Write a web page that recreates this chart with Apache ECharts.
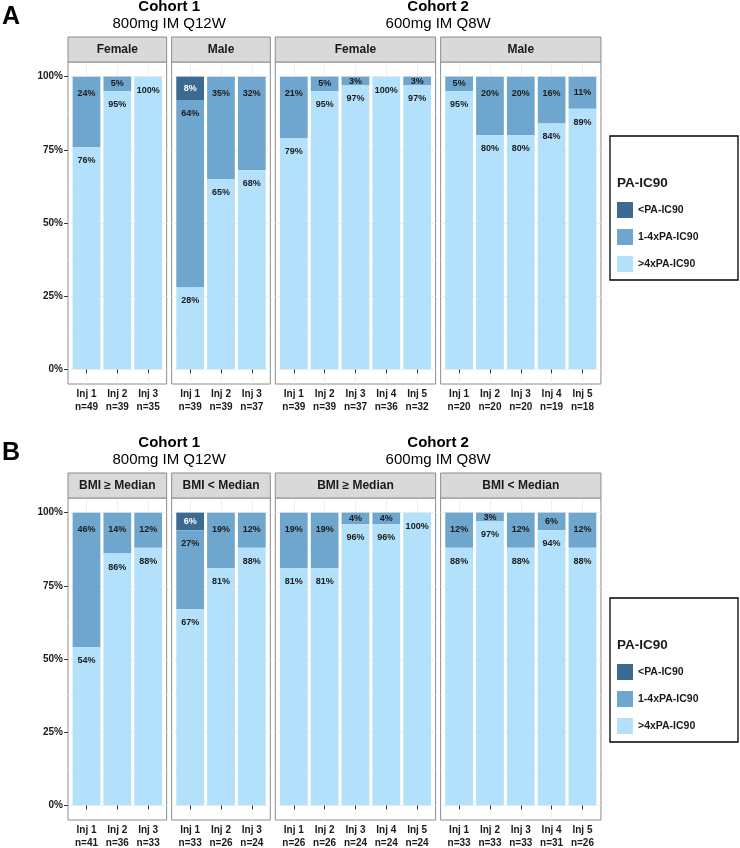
<!DOCTYPE html>
<html><head><meta charset="utf-8">
<script src="https://cdn.jsdelivr.net/npm/echarts@6/dist/echarts.min.js"></script>
<style>html,body{margin:0;padding:0;background:#fff}#chart{width:740px;height:848px}</style>
</head><body><div id="chart"></div>
<script>
// ---------- data ----------
const levels = ['<PA-IC90', '1-4xPA-IC90', '>4xPA-IC90'];
const legendTitle = 'PA-IC90';
const rowLetters = ['A', 'B'];
const cohortTitles = ['Cohort 1', 'Cohort 2'];
const cohortDoses = ['800mg IM Q12W', '600mg IM Q8W'];
const stripsA = ['Female', 'Male', 'Female', 'Male'];
const stripsB = ['BMI \u2265 Median', 'BMI < Median', 'BMI \u2265 Median', 'BMI < Median'];
const injC1 = ['Inj 1', 'Inj 2', 'Inj 3'];
const injC2 = ['Inj 1', 'Inj 2', 'Inj 3', 'Inj 4', 'Inj 5'];
const panelInj = [injC1, injC1, injC2, injC2];
const yTickValues = [0, 25, 50, 75, 100];
const yMinorValues = [12.5, 37.5, 62.5, 87.5];

// Panel A (by sex)
const nA     = [[49, 39, 35], [39, 39, 37], [39, 39, 37, 36, 32], [20, 20, 20, 19, 18]];
const belowA = [[0, 0, 0],    [8, 0, 0],    [0, 0, 0, 0, 0],      [0, 0, 0, 0, 0]];
const midA   = [[24, 5, 0],   [64, 35, 32], [21, 5, 3, 0, 3],     [5, 20, 20, 16, 11]];
const highA  = [[76, 95, 100],[28, 65, 68], [79, 95, 97, 100, 97],[95, 80, 80, 84, 89]];
// Panel B (by BMI)
const nB     = [[41, 36, 33], [33, 26, 24], [26, 26, 24, 24, 24], [33, 33, 33, 31, 26]];
const belowB = [[0, 0, 0],    [6, 0, 0],    [0, 0, 0, 0, 0],      [0, 0, 0, 0, 0]];
const midB   = [[46, 14, 12], [27, 19, 12], [19, 19, 4, 4, 0],    [12, 3, 12, 6, 12]];
const highB  = [[54, 86, 88], [67, 81, 88], [81, 81, 96, 96, 100],[88, 97, 88, 94, 88]];

// ---------- styles / layout ----------
const levelColors = ['#3B6A93', '#6EA6CE', '#B3E0FA'];
const FONT = '"Liberation Sans", Arial, Helvetica, sans-serif';
const TXT = '#1a1a1a';
const L = {
  left: 68, gap: 5, unit: 30.83, stripH: 25,
  rows: [
    { strip: 37, top: 62, h: 322, legendTop: 136 },
    { strip: 473, top: 498, h: 322, legendTop: 598 }
  ],
  legendX: 610, legendW: 128, legendH: 144
};
const LABEL_OFF = 4.6, LABEL_OFF_TOP = 5.8;

const rowsData = [
  { strips: stripsA, n: nA, below: belowA, mid: midA, high: highA },
  { strips: stripsB, n: nB, below: belowB, mid: midB, high: highB }
];

const panelX = [];
(function () {
  let x = L.left;
  panelInj.forEach(c => { const w = (c.length + 0.2) * L.unit; panelX.push([x, w]); x += w + L.gap; });
})();

function makeRender(k) {
  return function (params, api) {
    const x = api.value(0), y0 = api.value(1), y1 = api.value(2), pct = api.value(3), ly = api.value(4);
    const children = [];
    if (y1 > y0) {
      const a = api.coord([x, y0]), b = api.coord([x, y1]);
      const w = api.size([0.9, 0])[0];
      children.push({ type: 'rect', shape: { x: a[0] - w / 2, y: b[1], width: w, height: a[1] - b[1] },
        style: { fill: levelColors[k] } });
    }
    if (pct > 0) {
      const c = api.coord([x, ly]);
      children.push({ type: 'text', z2: 10, x: c[0], y: c[1],
        style: { text: pct + '%', fill: k === 0 ? '#ffffff' : TXT, font: 'bold 9px ' + FONT,
          align: 'center', verticalAlign: 'middle', textAlign: 'center', textVerticalAlign: 'middle' } });
    }
    return { type: 'group', children: children };
  };
}

const grids = [], xAxes = [], yAxes = [], series = [], graphics = [], legends = [];

rowsData.forEach((rd, r) => {
  const row = L.rows[r];
  panelInj.forEach((cats, p) => {
    const g = grids.length;
    const [px, pw] = panelX[p];
    grids.push({ left: px, top: row.top, width: pw, height: row.h, show: true,
      borderColor: '#8C8C8C', borderWidth: 1, backgroundColor: '#ffffff', containLabel: false, outerBoundsMode: 'none' });
    const xs = cats.map((_, i) => i + 1);
    const nn = rd.n[p];
    xAxes.push({ type: 'value', gridIndex: g, min: 0.4, max: cats.length + 0.6,
      axisLine: { show: false },
      axisTick: { show: true, customValues: xs, length: 4, lineStyle: { color: '#333', width: 1 } },
      axisLabel: { customValues: xs, margin: 4, color: TXT, fontFamily: FONT, fontWeight: 'bold', fontSize: 10,
        lineHeight: 13, align: 'center',
        formatter: v => cats[Math.round(v) - 1] + '\nn=' + nn[Math.round(v) - 1] },
      splitLine: { show: true, lineStyle: { color: '#EBEBEB', width: 0.8 } } });
    const first = p === 0;
    yAxes.push({ type: 'value', gridIndex: g, min: -5, max: 105, position: 'left',
      axisLine: { show: false },
      axisTick: { show: first, customValues: yTickValues, length: 4, lineStyle: { color: '#333', width: 1 } },
      axisLabel: { show: first, customValues: yTickValues, margin: 5, color: TXT, fontFamily: FONT,
        fontWeight: 'bold', fontSize: 10, formatter: v => v + '%' },
      splitLine: { show: true, lineStyle: { color: '#EBEBEB', width: 0.8 } } });
    yAxes.push({ type: 'value', gridIndex: g, min: -5, max: 105, position: 'left',
      axisLine: { show: false },
      axisTick: { show: false, customValues: yMinorValues },
      axisLabel: { show: false },
      splitLine: { show: true, lineStyle: { color: '#F4F4F4', width: 0.6 } } });

    for (let k = 0; k < 3; k++) {
      const data = cats.map((_, i) => {
        const b = rd.below[p][i], m = rd.mid[p][i], h = rd.high[p][i];
        let y0, y1, pct, off;
        if (k === 0) { y0 = h + m; y1 = h + m + b; pct = b; off = LABEL_OFF; }
        else if (k === 1) { y0 = h; y1 = h + m; pct = m; off = b > 0 ? LABEL_OFF : LABEL_OFF_TOP; }
        else { y0 = 0; y1 = h; pct = h; off = LABEL_OFF; }
        const ly = y1 - Math.min(pct / 2, off);
        return [i + 1, y0, y1, pct, ly];
      });
      series.push({ type: 'custom', name: levels[k], xAxisIndex: g, yAxisIndex: 2 * g,
        dimensions: ['x', 'y0', 'y1', 'pct', 'ly'], encode: { x: 0, y: [1, 2] },
        itemStyle: { color: levelColors[k] }, clip: false, silent: true,
        renderItem: makeRender(k), data: data });
    }

    // strip
    graphics.push({ type: 'rect', shape: { x: px, y: row.strip, width: pw, height: L.stripH },
      style: { fill: '#D9D9D9', stroke: '#8C8C8C', lineWidth: 1 }, z: 1 });
    graphics.push({ type: 'text', x: px + pw / 2, y: row.strip + L.stripH / 2 + 0.5, z: 2,
      style: { text: rd.strips[p], font: 'bold 12px ' + FONT, fill: TXT,
        align: 'center', verticalAlign: 'middle', textAlign: 'center', textVerticalAlign: 'middle' } });
  });

  // cohort titles
  [[0, 1], [2, 3]].forEach((pair, c) => {
    const cx = (panelX[pair[0]][0] + panelX[pair[1]][0] + panelX[pair[1]][1]) / 2;
    graphics.push({ type: 'text', x: cx, y: row.strip - 30.5,
      style: { text: cohortTitles[c], font: 'bold 15px ' + FONT, fill: '#000',
        align: 'center', verticalAlign: 'middle', textAlign: 'center', textVerticalAlign: 'middle' } });
    graphics.push({ type: 'text', x: cx, y: row.strip - 13,
      style: { text: cohortDoses[c], font: '15px ' + FONT, fill: '#000',
        align: 'center', verticalAlign: 'middle', textAlign: 'center', textVerticalAlign: 'middle' } });
  });
  // row letter
  graphics.push({ type: 'text', x: 2, y: row.strip - 19.5,
    style: { text: rowLetters[r], font: 'bold 25px ' + FONT, fill: '#000',
      align: 'left', verticalAlign: 'middle', textAlign: 'left', textVerticalAlign: 'middle' } });
  // legend box + title
  graphics.push({ type: 'rect', shape: { x: L.legendX, y: row.legendTop, width: L.legendW, height: L.legendH },
    style: { fill: '#fff', stroke: '#000', lineWidth: 1.3 }, z: 0 });
  graphics.push({ type: 'text', x: L.legendX + 7, y: row.legendTop + 47, z: 2,
    style: { text: legendTitle, font: 'bold 13.5px ' + FONT, fill: TXT,
      align: 'left', verticalAlign: 'middle', textAlign: 'left', textVerticalAlign: 'middle' } });
  legends.push({ show: true, orient: 'vertical', left: L.legendX + 7, top: row.legendTop + 66, padding: 0,
    itemWidth: 16, itemHeight: 16, itemGap: 11, icon: 'rect', selectedMode: false,
    itemStyle: { borderWidth: 0 },
    textStyle: { color: TXT, fontFamily: FONT, fontWeight: 'bold', fontSize: 10.5 },
    data: levels.map(nm => ({ name: nm })) });
});

const chart = echarts.init(document.getElementById('chart'), null, { renderer: 'canvas' });
chart.setOption({
  animation: false,
  backgroundColor: '#ffffff',
  color: levelColors,
  grid: grids, xAxis: xAxes, yAxis: yAxes, series: series,
  legend: legends,
  graphic: { elements: graphics }
});
</script></body></html>
